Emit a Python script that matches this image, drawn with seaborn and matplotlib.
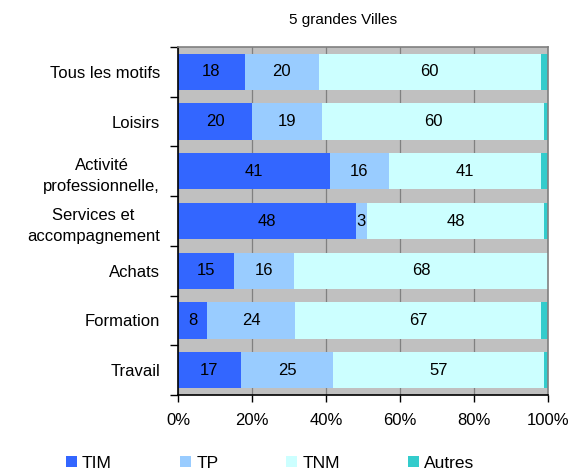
import numpy as np
import pandas as pd
import matplotlib
matplotlib.use("Agg")
import matplotlib.pyplot as plt
from matplotlib.patches import Patch
import seaborn as sns

categories = [
    "Tous les motifs",
    "Loisirs",
    "Activité\nprofessionnelle,",
    "Services et\naccompagnement",
    "Achats",
    "Formation",
    "Travail",
]
tim = [18, 20, 41, 48, 15, 8, 17]
tp = [20, 19, 16, 3, 16, 24, 25]
tnm = [60, 60, 41, 48, 68, 67, 57]
autres = [2, 1, 2, 1, 0, 2, 1]

series_names = ["TIM", "TP", "TNM", "Autres"]
colors = ["#3366FF", "#99CCFF", "#CCFFFF", "#33CCCC"]

sns.set_theme(style="white")
plt.rcParams["font.family"] = ["Liberation Sans", "DejaVu Sans"]
plt.rcParams["text.color"] = "black"
plt.rcParams["xtick.color"] = "black"
plt.rcParams["ytick.color"] = "black"
plt.rcParams["xtick.labelcolor"] = "black"
plt.rcParams["ytick.labelcolor"] = "black"

df = pd.DataFrame({"motif": categories, "TIM": tim, "TP": tp, "TNM": tnm, "Autres": autres})
total = df[series_names].sum(axis=1)
shares = df[series_names].div(total, axis=0) * 100
cum = shares.cumsum(axis=1)

fig = plt.figure(figsize=(5.69, 4.75), dpi=100)
ax = fig.add_axes([178 / 569, 1 - 395 / 475, 370 / 569, 348 / 475])
ax.set_facecolor("#C0C0C0")

# stacked bars: draw cumulative totals from the outermost layer inwards
for name, col in reversed(list(zip(series_names, colors))):
    sns.barplot(x=cum[name].values, y=df["motif"], orient="h", color=col,
                saturation=1, width=0.73, linewidth=0, ax=ax, order=categories)

# value labels centred in each segment
for i in range(len(categories)):
    for name in ["TIM", "TP", "TNM"]:
        raw = df.loc[i, name]
        mid = cum.loc[i, name] - shares.loc[i, name] / 2
        ax.text(mid, i, f"{raw}", ha="center", va="center", fontsize=12, color="black")

ax.set_xlim(0, 100)
ax.set_ylim(len(categories) - 0.5, -0.5)
ax.set_xticks([0, 20, 40, 60, 80, 100])
ax.set_xticklabels([f"{v}%" for v in [0, 20, 40, 60, 80, 100]], fontsize=12)
ax.xaxis.grid(True, color="#808080", linewidth=0.9)
ax.yaxis.grid(False)
ax.set_axisbelow(True)

ax.set_yticks(np.arange(-0.5, len(categories), 1))
ax.set_yticklabels([])
ax.set_yticks(np.arange(len(categories)), minor=True)
ax.set_yticklabels(categories, minor=True, fontsize=12, multialignment="center",
                   linespacing=1.55)
ax.tick_params(axis="y", which="major", direction="out", length=6, width=1, color="black", left=True)
ax.tick_params(axis="y", which="minor", length=0, pad=13)
ax.tick_params(axis="x", direction="out", length=5, width=1, color="black", bottom=True, pad=8)
ax.set_xlabel("")
ax.set_ylabel("")

for side in ["left", "bottom"]:
    ax.spines[side].set_color("black")
    ax.spines[side].set_linewidth(1.2)
for side in ["top", "right"]:
    ax.spines[side].set_color("#808080")
    ax.spines[side].set_linewidth(1.2)

fig.text(343 / 569, 1 - 20 / 475, "5 grandes Villes", ha="center", va="center", fontsize=11,
         color="black")

handles = [Patch(facecolor=c, edgecolor="none") for c in colors]
fig.legend(handles, series_names, loc="center", bbox_to_anchor=(270 / 569, 1 - 463 / 475),
           ncol=4, frameon=False, fontsize=12.5, handlelength=0.65, handleheight=0.65,
           handletextpad=0.3, columnspacing=3.9, borderaxespad=0, labelcolor="black")

fig.savefig("out.png", dpi=100)
